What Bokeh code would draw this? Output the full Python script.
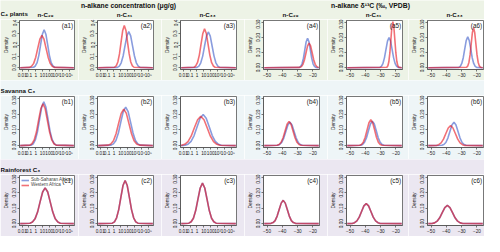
from bokeh.plotting import figure
from bokeh.layouts import column, row
from bokeh.models import Range1d, FixedTicker, Label, Legend, LegendItem
from bokeh.embed import file_html
from bokeh.resources import INLINE
from bokeh.core.properties import value

# ---------------- text ----------------
HEADERS = ["n-alkane concentration (μg/g)", "n-alkane δ¹³C (‰, VPDB)"]
ROW_LABELS = ["C₄ plants", "Savanna C₃", "Rainforest C₃"]
COL_TITLES = ["n-C₂₉", "n-C₃₁", "n-C₃₃", "n-C₂₉", "n-C₃₁", "n-C₃₃"]
SERIES = ["Sub-Saharan Africa", "Western Africa"]
TAGS = [["(a1)", "(a2)", "(a3)", "(a4)", "(a5)", "(a6)"],
        ["(b1)", "(b2)", "(b3)", "(b4)", "(b5)", "(b6)"],
        ["(c1)", "(c2)", "(c3)", "(c4)", "(c5)", "(c6)"]]
CONC_TICKS = [0.01, 0.1, 1.0, 10.0, 100.0, 1000.0, 10000.0, 100000.0]
CONC_TICK_LABELS = ["0.01", "0.1", "1", "10", "100", "10³", "10⁴", "10⁵"]
D13C_TICKS = [-50, -40, -30, -20]
Y_TICKS_04 = [0.0, 0.1, 0.2, 0.3, 0.4]
Y_LABELS_04 = ["0.0", "0.1", "0.2", "0.3", "0.4"]
Y_TICKS_03 = [0.0, 0.1, 0.2, 0.3]
Y_LABELS_03 = ["0.00", "0.10", "0.20", "0.30"]

# ---------------- data: concentration panels (log10 of µg/g) ----------------
A1_SSA_LOGC = [-2.30, -0.31, -0.05, 0.21, 0.47, 0.73, 0.99, 1.25, 1.51, 1.77, 2.03, 2.29, 2.55, 2.81, 5.65]
A1_SSA_DENS = [0.0, 0.004, 0.015, 0.045, 0.109, 0.203, 0.295, 0.335, 0.295, 0.203, 0.109, 0.045, 0.015, 0.004, 0.0]
A1_WA_LOGC = [-2.30, -0.91, -0.61, -0.30, 0.01, 0.31, 0.62, 0.92, 1.23, 1.53, 1.84, 2.14, 2.45, 2.75, 5.65]
A1_WA_DENS = [0.0, 0.003, 0.013, 0.038, 0.093, 0.173, 0.251, 0.285, 0.251, 0.173, 0.093, 0.038, 0.013, 0.003, 0.0]
A2_SSA_LOGC = [-2.30, 0.50, 0.78, 1.05, 1.33, 1.60, 1.88, 2.15, 2.43, 2.70, 2.98, 3.25, 3.53, 3.80, 5.65]
A2_SSA_DENS = [0.0, 0.003, 0.014, 0.043, 0.103, 0.193, 0.280, 0.318, 0.280, 0.193, 0.103, 0.043, 0.014, 0.003, 0.0]
A2_WA_LOGC = [-2.30, 0.09, 0.33, 0.56, 0.80, 1.03, 1.27, 1.50, 1.74, 1.97, 2.21, 2.44, 2.68, 2.91, 5.65]
A2_WA_DENS = [0.0, 0.004, 0.016, 0.050, 0.121, 0.226, 0.328, 0.372, 0.328, 0.226, 0.121, 0.050, 0.016, 0.004, 0.0]
A3_SSA_LOGC = [-2.30, 0.00, 0.28, 0.55, 0.83, 1.10, 1.38, 1.65, 1.93, 2.20, 2.48, 2.75, 3.03, 3.30, 5.65]
A3_SSA_DENS = [0.0, 0.003, 0.014, 0.043, 0.102, 0.191, 0.278, 0.315, 0.278, 0.191, 0.102, 0.043, 0.014, 0.003, 0.0]
A3_WA_LOGC = [-2.30, -0.43, -0.18, 0.08, 0.34, 0.59, 0.85, 1.10, 1.36, 1.61, 1.87, 2.12, 2.38, 2.63, 5.65]
A3_WA_DENS = [0.0, 0.004, 0.015, 0.046, 0.111, 0.208, 0.302, 0.342, 0.302, 0.208, 0.111, 0.046, 0.015, 0.004, 0.0]
B1_SSA_LOGC = [-2.30, -0.66, -0.35, -0.04, 0.27, 0.58, 0.89, 1.20, 1.51, 1.82, 2.13, 2.44, 2.75, 3.06, 5.65]
B1_SSA_DENS = [0.0, 0.003, 0.012, 0.038, 0.090, 0.169, 0.245, 0.278, 0.245, 0.169, 0.090, 0.038, 0.012, 0.003, 0.0]
B1_WA_LOGC = [-2.30, -0.87, -0.55, -0.22, 0.11, 0.43, 0.76, 1.08, 1.41, 1.73, 2.06, 2.38, 2.71, 3.03, 5.65]
B1_WA_DENS = [0.0, 0.003, 0.012, 0.036, 0.086, 0.161, 0.234, 0.265, 0.234, 0.161, 0.086, 0.036, 0.012, 0.003, 0.0]
B2_SSA_LOGC = [-2.30, -0.43, -0.08, 0.28, 0.64, 0.99, 1.35, 1.70, 2.06, 2.41, 2.77, 3.12, 3.48, 3.83, 5.65]
B2_SSA_DENS = [0.0, 0.003, 0.011, 0.033, 0.080, 0.149, 0.216, 0.245, 0.216, 0.149, 0.080, 0.033, 0.011, 0.003, 0.0]
B2_WA_LOGC = [-2.30, -0.83, -0.46, -0.08, 0.30, 0.67, 1.05, 1.42, 1.80, 2.17, 2.55, 2.92, 3.30, 3.67, 5.65]
B2_WA_DENS = [0.0, 0.003, 0.010, 0.031, 0.075, 0.141, 0.205, 0.232, 0.205, 0.141, 0.075, 0.031, 0.010, 0.003, 0.0]
B3_SSA_LOGC = [-2.30, -1.74, -1.30, -0.86, -0.42, 0.02, 0.46, 0.90, 1.34, 1.78, 2.22, 2.66, 3.10, 3.54, 5.65]
B3_SSA_DENS = [0.0, 0.002, 0.009, 0.027, 0.064, 0.120, 0.174, 0.197, 0.174, 0.120, 0.064, 0.027, 0.009, 0.002, 0.0]
B3_WA_LOGC = [-2.30, -2.24, -1.78, -1.31, -0.85, -0.38, 0.09, 0.55, 1.02, 1.48, 1.95, 2.41, 2.88, 3.34, 5.65]
B3_WA_DENS = [0.0, 0.002, 0.008, 0.025, 0.060, 0.113, 0.164, 0.186, 0.164, 0.113, 0.060, 0.025, 0.008, 0.002, 0.0]
C1_LOGC = [-2.30, -0.85, -0.48, -0.10, 0.28, 0.65, 1.03, 1.40, 1.78, 2.15, 2.53, 2.90, 3.28, 3.65, 5.65]
C1_DENS = [0.0, 0.003, 0.010, 0.031, 0.075, 0.141, 0.205, 0.232, 0.205, 0.141, 0.075, 0.031, 0.010, 0.003, 0.0]
C2_LOGC = [-2.30, -0.24, 0.07, 0.38, 0.69, 1.00, 1.31, 1.62, 1.93, 2.24, 2.55, 2.86, 3.17, 3.48, 5.65]
C2_DENS = [0.0, 0.003, 0.012, 0.038, 0.091, 0.170, 0.247, 0.280, 0.247, 0.170, 0.091, 0.038, 0.012, 0.003, 0.0]
C3_LOGC = [-2.30, -1.18, -0.85, -0.52, -0.19, 0.14, 0.47, 0.80, 1.13, 1.46, 1.79, 2.12, 2.45, 2.78, 5.65]
C3_DENS = [0.0, 0.003, 0.012, 0.035, 0.085, 0.159, 0.231, 0.262, 0.231, 0.159, 0.085, 0.035, 0.012, 0.003, 0.0]

# ---------------- data: delta13C panels (per mil, VPDB) ----------------
A4_SSA_D13C = [-51.8, -28.9, -28.0, -27.1, -26.2, -25.3, -24.4, -23.5, -22.6, -21.7, -20.8, -19.9, -19.0, -18.1, -16.2]
A4_SSA_DENS = [0.0, 0.002, 0.009, 0.026, 0.063, 0.118, 0.172, 0.195, 0.172, 0.118, 0.063, 0.026, 0.009, 0.002, 0.0]
A4_WA_D13C = [-51.8, -28.5, -27.5, -26.5, -25.5, -24.5, -23.5, -22.5, -21.5, -20.5, -19.5, -18.5, -17.5, -16.5, -16.2]
A4_WA_DENS = [0.0, 0.002, 0.007, 0.022, 0.053, 0.099, 0.144, 0.163, 0.144, 0.099, 0.053, 0.022, 0.007, 0.002, 0.0]
A5_SSA_D13C = [-51.8, -30.5, -29.5, -28.5, -27.5, -26.5, -25.5, -24.5, -23.5, -22.5, -21.5, -20.5, -19.5, -18.5, -16.2]
A5_SSA_DENS = [0.0, 0.002, 0.009, 0.027, 0.065, 0.121, 0.176, 0.200, 0.176, 0.121, 0.065, 0.027, 0.009, 0.002, 0.0]
A5_WA_D13C = [-51.8, -25.9, -25.25, -24.6, -23.95, -23.3, -22.65, -22.0, -21.35, -20.7, -20.05, -19.4, -18.75, -18.1, -16.2]
A5_WA_DENS = [0.0, 0.003, 0.013, 0.041, 0.099, 0.185, 0.269, 0.305, 0.269, 0.185, 0.099, 0.041, 0.013, 0.003, 0.0]
A6_SSA_D13C = [-51.8, -31.85, -30.88, -29.9, -28.93, -27.95, -26.98, -26.0, -25.03, -24.05, -23.08, -22.1, -21.13, -20.15, -16.2]
A6_SSA_DENS = [0.0, 0.002, 0.009, 0.028, 0.066, 0.124, 0.180, 0.204, 0.180, 0.124, 0.066, 0.028, 0.009, 0.002, 0.0]
A6_WA_D13C = [-51.8, -26.7, -25.95, -25.2, -24.45, -23.7, -22.95, -22.2, -21.45, -20.7, -19.95, -19.2, -18.45, -17.7, -16.2]
A6_WA_DENS = [0.0, 0.003, 0.012, 0.036, 0.086, 0.160, 0.233, 0.264, 0.233, 0.160, 0.086, 0.036, 0.012, 0.003, 0.0]
B4_SSA_D13C = [-51.8, -43.1, -41.75, -40.4, -39.05, -37.7, -36.35, -35.0, -33.65, -32.3, -30.95, -29.6, -28.25, -26.9, -16.2]
B4_SSA_DENS = [0.0, 0.002, 0.007, 0.020, 0.048, 0.090, 0.131, 0.148, 0.131, 0.090, 0.048, 0.020, 0.007, 0.002, 0.0]
B4_WA_D13C = [-51.8, -43.4, -42.1, -40.8, -39.5, -38.2, -36.9, -35.6, -34.3, -33.0, -31.7, -30.4, -29.1, -27.8, -16.2]
B4_WA_DENS = [0.0, 0.002, 0.007, 0.021, 0.050, 0.093, 0.136, 0.154, 0.136, 0.093, 0.050, 0.021, 0.007, 0.002, 0.0]
B5_SSA_D13C = [-51.8, -43.05, -41.78, -40.5, -39.23, -37.95, -36.68, -35.4, -34.13, -32.85, -31.58, -30.3, -29.03, -27.75, -16.2]
B5_SSA_DENS = [0.0, 0.002, 0.007, 0.021, 0.050, 0.094, 0.137, 0.155, 0.137, 0.094, 0.050, 0.021, 0.007, 0.002, 0.0]
B5_WA_D13C = [-51.8, -43.75, -42.53, -41.3, -40.08, -38.85, -37.63, -36.4, -35.18, -33.95, -32.73, -31.5, -30.28, -29.05, -16.2]
B5_WA_DENS = [0.0, 0.002, 0.007, 0.022, 0.053, 0.100, 0.145, 0.164, 0.145, 0.100, 0.053, 0.022, 0.007, 0.002, 0.0]
B6_SSA_D13C = [-51.8, -42.95, -41.63, -40.3, -38.98, -37.65, -36.33, -35.0, -33.68, -32.35, -31.03, -29.7, -28.38, -27.05, -16.2]
B6_SSA_DENS = [0.0, 0.002, 0.007, 0.020, 0.048, 0.090, 0.131, 0.149, 0.131, 0.090, 0.048, 0.020, 0.007, 0.002, 0.0]
B6_WA_D13C = [-51.8, -46.5, -44.95, -43.4, -41.85, -40.3, -38.75, -37.2, -35.65, -34.1, -32.55, -31.0, -29.45, -27.9, -16.2]
B6_WA_DENS = [0.0, 0.001, 0.006, 0.017, 0.041, 0.077, 0.112, 0.127, 0.112, 0.077, 0.041, 0.017, 0.006, 0.001, 0.0]
C4_D13C = [-51.8, -47.35, -46.03, -44.7, -43.38, -42.05, -40.73, -39.4, -38.08, -36.75, -35.43, -34.1, -32.78, -31.45, -16.2]
C4_DENS = [0.0, 0.002, 0.007, 0.020, 0.049, 0.092, 0.133, 0.151, 0.133, 0.092, 0.049, 0.020, 0.007, 0.002, 0.0]
C5_D13C = [-51.8, -48.55, -47.03, -45.5, -43.98, -42.45, -40.93, -39.4, -37.88, -36.35, -34.83, -33.3, -31.78, -30.25, -16.2]
C5_DENS = [0.0, 0.001, 0.006, 0.018, 0.042, 0.079, 0.115, 0.130, 0.115, 0.079, 0.042, 0.018, 0.006, 0.001, 0.0]
C6_D13C = [-51.8, -49.35, -47.68, -46.0, -44.33, -42.65, -40.98, -39.3, -37.63, -35.95, -34.28, -32.6, -30.93, -29.25, -16.2]
C6_DENS = [0.0, 0.001, 0.005, 0.016, 0.038, 0.072, 0.104, 0.118, 0.104, 0.072, 0.038, 0.016, 0.005, 0.001, 0.0]

# panel table built from the arrays: (kind, ssa_x, ssa_y, wa_x, wa_y)
PANELS = [
    [("conc", A1_SSA_LOGC, A1_SSA_DENS, A1_WA_LOGC, A1_WA_DENS),
     ("conc", A2_SSA_LOGC, A2_SSA_DENS, A2_WA_LOGC, A2_WA_DENS),
     ("conc", A3_SSA_LOGC, A3_SSA_DENS, A3_WA_LOGC, A3_WA_DENS),
     ("d13c", A4_SSA_D13C, A4_SSA_DENS, A4_WA_D13C, A4_WA_DENS),
     ("d13c", A5_SSA_D13C, A5_SSA_DENS, A5_WA_D13C, A5_WA_DENS),
     ("d13c", A6_SSA_D13C, A6_SSA_DENS, A6_WA_D13C, A6_WA_DENS)],
    [("conc", B1_SSA_LOGC, B1_SSA_DENS, B1_WA_LOGC, B1_WA_DENS),
     ("conc", B2_SSA_LOGC, B2_SSA_DENS, B2_WA_LOGC, B2_WA_DENS),
     ("conc", B3_SSA_LOGC, B3_SSA_DENS, B3_WA_LOGC, B3_WA_DENS),
     ("d13c", B4_SSA_D13C, B4_SSA_DENS, B4_WA_D13C, B4_WA_DENS),
     ("d13c", B5_SSA_D13C, B5_SSA_DENS, B5_WA_D13C, B5_WA_DENS),
     ("d13c", B6_SSA_D13C, B6_SSA_DENS, B6_WA_D13C, B6_WA_DENS)],
    [("conc", C1_LOGC, C1_DENS, C1_LOGC, C1_DENS),
     ("conc", C2_LOGC, C2_DENS, C2_LOGC, C2_DENS),
     ("conc", C3_LOGC, C3_DENS, C3_LOGC, C3_DENS),
     ("d13c", C4_D13C, C4_DENS, C4_D13C, C4_DENS),
     ("d13c", C5_D13C, C5_DENS, C5_D13C, C5_DENS),
     ("d13c", C6_D13C, C6_DENS, C6_D13C, C6_DENS)],
]

# ---------------- style / layout ----------------
FONT = "Liberation Sans"
BLUE = "#3a5ac8"
RED = "#e8101a"
BANDS = ["#edf3e6", "#eef5f7", "#ebe7f1"]
AX = "#555555"

FIG_W = [78, 83, 83, 83, 81, 76]
FIG_L = [16, 17, 17, 17, 17, 17]
FRAME_W = 58
STRIP_H = [19, 15, 15]
PANEL_H = [61, 64, 62]
PANEL_T = [1, 1, 1]
PANEL_B = [9, 12, 11]
TOTAL_W = sum(FIG_W)

CONC_RANGE = (10 ** -2.4, 10 ** 5.75)
D13C_RANGE = (-52.3, -15.7)
Y_RANGE_04 = (-0.016, 0.416)
Y_RANGE_03 = (-0.012, 0.312)

frame_centres = []
acc = 0
for c in range(6):
    frame_centres.append(acc + FIG_L[c] + FRAME_W / 2)
    acc += FIG_W[c]


def make_strip(r):
    h = STRIP_H[r]
    s = figure(width=TOTAL_W, height=h, x_range=Range1d(0, TOTAL_W), y_range=Range1d(h, 0),
               x_axis_type=None, y_axis_type=None, toolbar_location=None, output_backend="svg",
               min_border=0, title=None, background_fill_color=BANDS[r], border_fill_color=BANDS[r],
               outline_line_color=None)
    s.grid.visible = False
    if r == 0:
        left1 = FIG_L[0]
        right3 = FIG_W[0] + FIG_W[1] + FIG_L[2] + FRAME_W
        left4 = FIG_W[0] + FIG_W[1] + FIG_W[2] + FIG_L[3]
        right6 = TOTAL_W - FIG_W[5] + FIG_L[5] + FRAME_W
        s.text(x=[(left1 + right3) / 2 + 2, (left4 + right6) / 2 - 2], y=[5, 5], text=HEADERS,
               text_font=value(FONT), text_font_size=value("6.8px"), text_font_style="bold",
               text_align="center", text_baseline="middle", text_color="#111111")
        s.text(x=frame_centres, y=[13.5] * 6, text=COL_TITLES,
               text_font=value(FONT), text_font_size=value("6.2px"), text_font_style="bold",
               text_align="center", text_baseline="middle", text_color="#111111")
        ly = 12.5
    else:
        ly = 9.5
    s.text(x=[0], y=[ly], text=[ROW_LABELS[r]], text_font=value(FONT), text_font_size=value("6.2px"),
           text_font_style="bold", text_align="left", text_baseline="middle", text_color="#111111")
    return s


def make_panel(r, c):
    kind, sx, sy, wx, wy = PANELS[r][c]
    big = (r == 0 and kind == "conc")
    yr = Y_RANGE_04 if big else Y_RANGE_03
    yt = Y_TICKS_04 if big else Y_TICKS_03
    yl = Y_LABELS_04 if big else Y_LABELS_03
    xr = CONC_RANGE if kind == "conc" else D13C_RANGE
    p = figure(width=FIG_W[c], height=PANEL_H[r],
               x_axis_type="log" if kind == "conc" else "linear",
               x_range=Range1d(*xr), y_range=Range1d(*yr),
               toolbar_location=None, output_backend="svg", title=None,
               min_border_left=FIG_L[c], min_border_right=FIG_W[c] - FIG_L[c] - FRAME_W,
               min_border_top=PANEL_T[r], min_border_bottom=PANEL_B[r],
               background_fill_color="white", border_fill_color=BANDS[r],
               outline_line_color=AX, outline_line_width=0.8)
    p.grid.visible = False
    for ax in p.axis:
        ax.major_tick_out = 2
        ax.major_tick_in = 0
        ax.minor_tick_out = 0
        ax.minor_tick_in = 0
        ax.major_label_standoff = 1
        ax.major_label_text_font = FONT
        ax.major_label_text_color = "#222222"
        ax.axis_line_color = AX
        ax.axis_line_width = 0.8
        ax.major_tick_line_color = AX
        ax.major_tick_line_width = 0.8
    p.xaxis.major_label_text_font_size = "4.7px"
    p.yaxis.major_label_text_font_size = "4.8px"
    if kind == "conc":
        p.xaxis.ticker = FixedTicker(ticks=CONC_TICKS)
        p.xaxis.major_label_overrides = dict(zip(CONC_TICKS, CONC_TICK_LABELS))
        sxv = [10 ** v for v in sx]
        wxv = [10 ** v for v in wx]
    else:
        p.xaxis.ticker = FixedTicker(ticks=D13C_TICKS)
        sxv, wxv = sx, wx
    p.yaxis.ticker = FixedTicker(ticks=yt)
    p.yaxis.major_label_overrides = dict(zip(yt, yl))
    p.yaxis.major_label_orientation = "vertical"
    p.yaxis.axis_label = "Density"
    p.yaxis.axis_label_text_font = FONT
    p.yaxis.axis_label_text_font_size = "4.8px"
    p.yaxis.axis_label_text_font_style = "normal"
    p.yaxis.axis_label_standoff = 1
    p.yaxis.axis_label_text_color = "#222222"

    rb = p.line(sxv, sy, line_color=BLUE, line_alpha=0.6, line_width=1.6)
    rr = p.line(wxv, wy, line_color=RED, line_alpha=0.6, line_width=1.6)

    p.add_layout(Label(x=xr[1], y=yr[1], text=TAGS[r][c], text_align="right", text_baseline="top",
                       x_offset=-1.5, y_offset=-1, text_font=FONT, text_font_size="6.3px",
                       text_color="#222222"))
    if r == 2 and c == 0:
        leg = Legend(items=[LegendItem(label=SERIES[0], renderers=[rb]),
                            LegendItem(label=SERIES[1], renderers=[rr])],
                     location="top_left", label_text_font=FONT, label_text_font_size="4.6px",
                     glyph_width=8, glyph_height=4, label_height=4, label_standoff=2,
                     spacing=0, padding=1, margin=2, border_line_color=None,
                     background_fill_alpha=0.0)
        p.add_layout(leg)
    return p


blocks = []
for r in range(3):
    strip = make_strip(r)
    panels = [make_panel(r, c) for c in range(6)]
    blocks.append(column(strip, row(*panels, spacing=0), spacing=0))
layout = column(*blocks, spacing=0)

open("out.html", "w").write(file_html(layout, INLINE))
